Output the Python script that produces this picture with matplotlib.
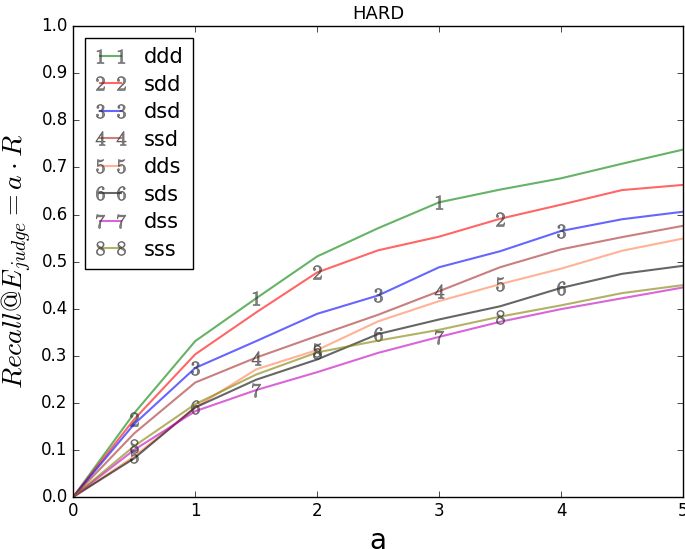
import matplotlib
matplotlib.use("Agg")
import matplotlib.pyplot as plt

plt.style.use('classic')

a_values = [0, 0.5, 1, 1.5, 2, 2.5, 3, 3.5, 4, 4.5, 5]
names = ["ddd", "sdd", "dsd", "ssd", "dds", "sds", "dss", "sss"]
ddd = [0, 0.178, 0.331, 0.422, 0.511, 0.571, 0.626, 0.653, 0.677, 0.708, 0.738]
sdd = [0, 0.165, 0.303, 0.392, 0.477, 0.524, 0.553, 0.591, 0.621, 0.652, 0.663]
dsd = [0, 0.155, 0.274, 0.331, 0.389, 0.428, 0.488, 0.522, 0.565, 0.590, 0.606]
ssd = [0, 0.135, 0.243, 0.296, 0.342, 0.387, 0.437, 0.488, 0.526, 0.552, 0.576]
dds = [0, 0.086, 0.190, 0.271, 0.312, 0.373, 0.416, 0.452, 0.485, 0.523, 0.549]
sds = [0, 0.082, 0.190, 0.249, 0.292, 0.346, 0.377, 0.405, 0.444, 0.474, 0.491]
dss = [0, 0.100, 0.182, 0.227, 0.265, 0.306, 0.340, 0.372, 0.399, 0.422, 0.445]
sss = [0, 0.108, 0.197, 0.260, 0.307, 0.332, 0.355, 0.383, 0.407, 0.433, 0.450]
series = [ddd, sdd, dsd, ssd, dds, sds, dss, sss]
colors = ['g', 'r', 'b', 'brown', 'coral', 'k', 'm', 'olive']
mark_idx = [[3, 6], [1, 4, 7], [2, 5, 8], [3, 6], [1, 4, 7], [2, 5, 8], [3, 6], [1, 4, 7]]

fig = plt.figure(figsize=(6.85, 5.49), dpi=100)
ax = fig.add_axes([0.107, 0.095, 0.89, 0.857])
for i, (name, vals) in enumerate(zip(names, series)):
    ax.plot(a_values, vals, color=colors[i], alpha=0.6, lw=1.5,
            marker='$%d$' % (i + 1), markersize=10, markevery=mark_idx[i],
            markerfacecolor='#333333', markeredgecolor='#333333',
            markeredgewidth=0.5, label=name)

ax.set_xlim(0, 5)
ax.set_ylim(0, 1.0)
ax.set_xticks([0, 1, 2, 3, 4, 5])
ax.set_yticks([0.0, 0.1, 0.2, 0.3, 0.4, 0.5, 0.6, 0.7, 0.8, 0.9, 1.0])
ax.tick_params(labelsize=12)
ax.set_title("HARD", fontsize=13)
ax.set_xlabel("a", fontsize=20)
ax.set_ylabel(r"$Recall@E_{judge} = a \cdot R$", fontsize=20)
leg = ax.legend(loc='upper left', numpoints=2, fontsize=15, fancybox=False,
                handlelength=1.6, handletextpad=0.8, borderpad=0.45,
                labelspacing=0.36, borderaxespad=0.55)
leg.get_frame().set_edgecolor('k')

fig.savefig("out.png", dpi=100)
